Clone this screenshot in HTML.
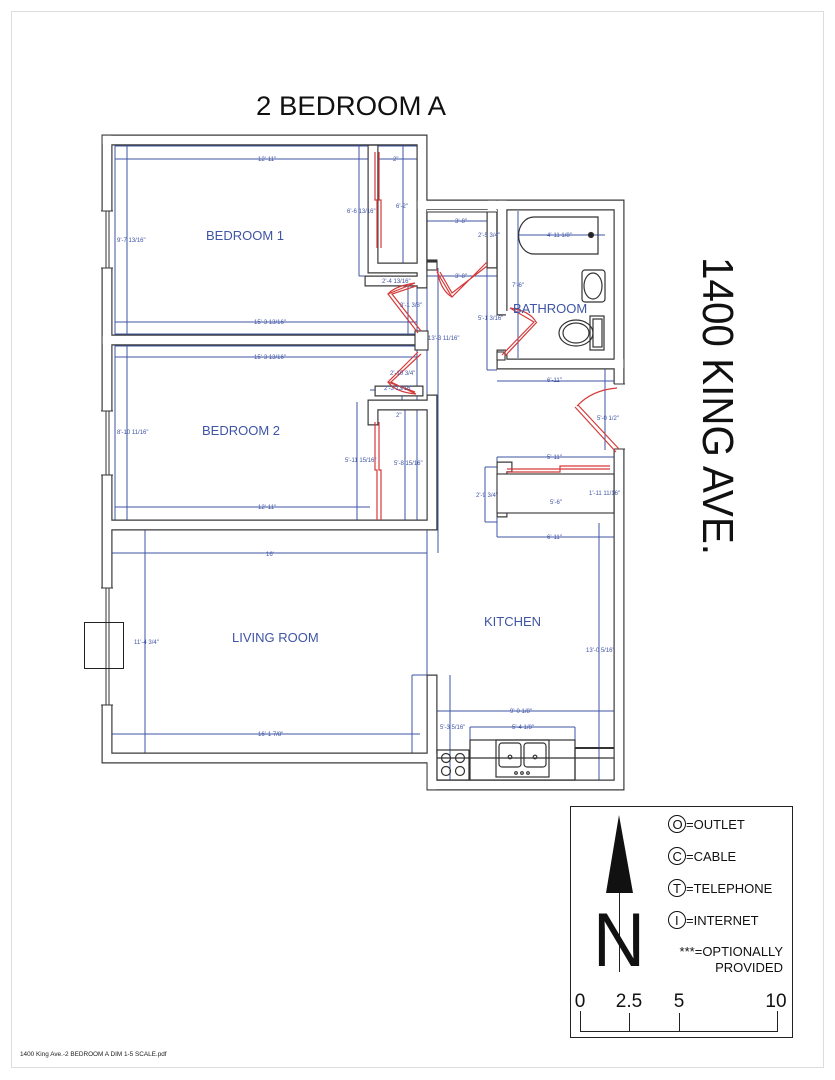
<!DOCTYPE html>
<html><head><meta charset="utf-8"><style>
html,body{margin:0;padding:0;background:#fff}
svg{display:block}
text{font-family:"Liberation Sans",Arial,sans-serif}
.w{fill:none;stroke:#3a3a3a;stroke-width:11;stroke-linejoin:miter;stroke-linecap:square}
.wi{fill:none;stroke:#fff;stroke-width:8.6;stroke-linejoin:miter;stroke-linecap:square}
.b{fill:none;stroke:#3f55a5;stroke-width:1}
.d{fill:#3f55a5;font-size:6px}
.r{fill:#3f55a5;font-size:13px}
.k{fill:none;stroke:#333;stroke-width:1.2}
.red{fill:none;stroke:#d63a3a;stroke-width:1.2}
</style></head><body>
<svg width="835" height="1080" viewBox="0 0 835 1080" xmlns="http://www.w3.org/2000/svg">
<rect x="11.5" y="11.5" width="812" height="1056" fill="none" stroke="#ddd" stroke-width="1"/>
<text x="256" y="115" font-size="27" textLength="190" lengthAdjust="spacingAndGlyphs" fill="#111">2 BEDROOM A</text>
<text transform="translate(703,257) rotate(90)" font-size="44" textLength="298" lengthAdjust="spacingAndGlyphs" fill="#111">1400 KING AVE.</text>

<!-- blue dimension lines -->
<g class="b">
<rect x="115" y="146" width="302" height="188"/>
<line x1="127" y1="146" x2="127" y2="334"/>
<line x1="115" y1="159" x2="417" y2="159"/>
<line x1="115" y1="322" x2="417" y2="322"/>
<line x1="359" y1="146" x2="359" y2="276"/>
<line x1="403" y1="146" x2="403" y2="267"/>
<line x1="359" y1="276" x2="417" y2="276"/>
<line x1="408" y1="283" x2="408" y2="334"/>
<rect x="115" y="346" width="302" height="174"/>
<line x1="127" y1="346" x2="127" y2="520"/>
<line x1="115" y1="357" x2="417" y2="357"/>
<line x1="115" y1="507" x2="370" y2="507"/>
<line x1="357" y1="402" x2="357" y2="520"/>
<line x1="405" y1="408" x2="405" y2="520"/>
<line x1="370" y1="390" x2="417" y2="390"/>
<line x1="402" y1="390" x2="402" y2="407"/>
<rect x="112" y="530" width="315" height="223"/>
<line x1="145" y1="530" x2="145" y2="753"/>
<line x1="112" y1="553" x2="427" y2="553"/>
<line x1="112" y1="734" x2="420" y2="734"/>
<line x1="427" y1="268" x2="427" y2="553"/>
<line x1="438" y1="268" x2="438" y2="553"/>
<line x1="427" y1="530" x2="437" y2="530"/>
<line x1="412" y1="675" x2="412" y2="753"/>
<line x1="412" y1="675" x2="427" y2="675"/>
<line x1="427" y1="221" x2="497" y2="221"/>
<line x1="427" y1="276" x2="497" y2="276"/>
<line x1="487" y1="212" x2="487" y2="370"/>
<line x1="487" y1="370" x2="497" y2="370"/>
<line x1="497" y1="381" x2="614" y2="381"/>
<line x1="518" y1="211" x2="518" y2="358"/>
<line x1="518" y1="235" x2="605" y2="235"/>
<line x1="605" y1="368" x2="605" y2="450"/>
<line x1="497" y1="457" x2="614" y2="457"/>
<line x1="497" y1="457" x2="497" y2="537"/>
<line x1="485" y1="467" x2="497" y2="467"/>
<line x1="485" y1="467" x2="485" y2="522"/>
<line x1="485" y1="522" x2="497" y2="522"/>
<line x1="497" y1="537" x2="614" y2="537"/>
<line x1="507" y1="502" x2="600" y2="502"/>
<line x1="600" y1="474" x2="600" y2="513"/>
<line x1="599" y1="523" x2="599" y2="780"/>
<line x1="437" y1="711" x2="614" y2="711"/>
<line x1="450" y1="675" x2="450" y2="780"/>
<line x1="470" y1="727" x2="575" y2="727"/>
<line x1="470" y1="727" x2="470" y2="740"/>
<line x1="575" y1="727" x2="575" y2="740"/>
<line x1="437" y1="758" x2="614" y2="758"/>
</g>

<!-- walls -->
<g>
<path class="w" d="M107,140 H422 V205 H619 V363 H619"/>
<path class="w" d="M619,363 V383"/>
<path class="w" d="M619,450 V785 H432 V758 H107 V140"/>
<path class="w" d="M422,205 V283"/>
<path class="w" d="M107,340 H418"/>
<path class="w" d="M112,525 H432 V400"/>
<path class="w" d="M373,150 V268 H418"/>
<path class="w" d="M370,281 H418"/>
<path class="w" d="M373,420 V405 H427"/>
<path class="w" d="M380,391 H418"/>
<path class="w" d="M432,265 H432"/>
<path class="w" d="M492,205 V263"/>
<path class="w" d="M502,205 V310"/>
<path class="w" d="M502,355 V364 H619"/>
<path class="w" d="M502,512 V467 H507"/>
<path class="w" d="M432,680 V785"/>
<path class="wi" d="M107,140 H422 V205 H619 V363 H619"/>
<path class="wi" d="M619,363 V383"/>
<path class="wi" d="M619,450 V785 H432 V758 H107 V140"/>
<path class="wi" d="M422,205 V283"/>
<path class="wi" d="M107,340 H418"/>
<path class="wi" d="M112,525 H432 V400"/>
<path class="wi" d="M373,150 V268 H418"/>
<path class="wi" d="M370,281 H418"/>
<path class="wi" d="M373,420 V405 H427"/>
<path class="wi" d="M380,391 H418"/>
<path class="wi" d="M492,205 V263"/>
<path class="wi" d="M502,205 V310"/>
<path class="wi" d="M502,355 V364 H619"/>
<path class="wi" d="M502,512 V467 H507"/>
<path class="wi" d="M432,680 V785"/>
</g>
<!-- wall blocks/stubs -->
<g fill="#fff" stroke="#333" stroke-width="1.1">
<rect x="415" y="331" width="13" height="19"/>
<rect x="427" y="262" width="10" height="8"/>
<rect x="427" y="210" width="70" height="2" stroke="none"/>
<rect x="497" y="474" width="117" height="39"/>
<rect x="497" y="352" width="8" height="8"/>
</g>
<line x1="427" y1="212" x2="427" y2="262" stroke="#333" stroke-width="1.1"/>
<line x1="427" y1="212" x2="497" y2="212" stroke="#333" stroke-width="1.1"/>
<line x1="427" y1="260" x2="437" y2="260" stroke="#333" stroke-width="1.1"/>
<!-- windows left wall -->
<g fill="#fff">
<rect x="101" y="211" width="12" height="57"/>
<rect x="101" y="411" width="12" height="64"/>
<rect x="101" y="588" width="12" height="117"/>
</g>
<g stroke="#333" stroke-width="1">
<line x1="106" y1="211" x2="106" y2="268"/><line x1="109" y1="211" x2="109" y2="268"/>
<line x1="106" y1="411" x2="106" y2="475"/><line x1="109" y1="411" x2="109" y2="475"/>
<line x1="106" y1="588" x2="106" y2="705"/><line x1="109" y1="588" x2="109" y2="705"/>
<line x1="101" y1="211" x2="113" y2="211"/><line x1="101" y1="268" x2="113" y2="268"/>
<line x1="101" y1="411" x2="113" y2="411"/><line x1="101" y1="475" x2="113" y2="475"/>
<line x1="101" y1="588" x2="113" y2="588"/><line x1="101" y1="705" x2="113" y2="705"/>
</g>
<rect x="84.5" y="622.5" width="39" height="46" fill="none" stroke="#222" stroke-width="1"/>
<!-- right door gap -->
<rect x="612" y="384" width="16" height="65" fill="#fff"/>
<line x1="614" y1="384" x2="625" y2="384" stroke="#333"/>
<line x1="614" y1="449" x2="625" y2="449" stroke="#333"/>
<rect x="506" y="311" width="8" height="43" fill="#fff"/>

<!-- red doors -->
<g class="red">
<path d="M375,152 V200 H377 V248 M379,152 V200 H381 V248"/>
<path d="M375,422 V470 H377 V520 M379,422 V470 H381 V520"/>
<path d="M507,469 H560 V466 H610 M507,472 H560 V469 H610"/>
<path d="M418,333 L388,294 L415,283 M421,331 L392,294 L416,286"/>
<path d="M418,352 L388,382 L415,392 M421,354 L391,382 L416,394"/>
<path d="M437,272 L452,297 L487,262 M440,272 L452,293 L487,266"/>
<path d="M437,269 Q440,290 452,297"/>
<path d="M502,355 L534,322 L510,308 M505,356 L537,322"/>
<path d="M510,308 Q530,311 536,322"/>
<path d="M619,449 L578,405 M616,452 L575,407"/>
<path d="M577,406 Q592,390 617,388"/>
<path d="M415,283 Q395,286 388,294"/>
<path d="M388,382 Q395,392 416,394"/>
</g>

<!-- bathroom fixtures -->
<g class="k">
<path d="M534,217 H598 V254 H534 A15,18 0 0 1 534,217 Z"/>
<circle cx="591" cy="235" r="2.5" fill="#222"/>
<rect x="582" y="270" width="23" height="32" rx="3"/>
<ellipse cx="593" cy="286" rx="9" ry="13"/>
<ellipse cx="576" cy="333" rx="17" ry="13"/>
<ellipse cx="576" cy="333" rx="13" ry="10"/>
<rect x="590" y="316" width="14" height="34"/>
<rect x="593" y="319" width="9" height="28"/>
</g>
<!-- kitchen -->
<g class="k">
<rect x="470" y="740" width="105" height="40"/>
<rect x="437" y="750" width="32" height="30"/>
<circle cx="446" cy="758" r="4.5"/><circle cx="460" cy="758" r="4.5"/>
<circle cx="446" cy="771" r="4.5"/><circle cx="460" cy="771" r="4.5"/>
<rect x="496" y="740" width="53" height="37"/>
<rect x="499" y="743" width="22" height="24" rx="3"/>
<rect x="524" y="743" width="22" height="24" rx="3"/>
<circle cx="510" cy="757" r="1.8"/><circle cx="535" cy="757" r="1.8"/>
<circle cx="516" cy="773" r="1.3"/><circle cx="522" cy="773" r="1.3"/><circle cx="528" cy="773" r="1.3"/>
<line x1="437" y1="758" x2="614" y2="758"/>
<line x1="575" y1="748" x2="614" y2="748" stroke-width="2"/>
<line x1="575" y1="748" x2="575" y2="780"/>
</g>

<!-- room labels -->
<text class="r" x="206" y="240">BEDROOM 1</text>
<text class="r" x="202" y="435">BEDROOM 2</text>
<text class="r" x="232" y="642">LIVING ROOM</text>
<text class="r" x="484" y="626">KITCHEN</text>
<text class="r" x="513" y="313">BATHROOM</text>

<!-- dims -->
<g class="d">
<text x="258" y="161">12'-11"</text>
<text x="393" y="161">2"</text>
<text x="347" y="213">6'-6 13/16"</text>
<text x="396" y="208">6'-2"</text>
<text x="117" y="242">9'-7 13/16"</text>
<text x="382" y="283">2'-4 13/16"</text>
<text x="400" y="307">3'-1 3/8"</text>
<text x="254" y="324">15'-3 13/16"</text>
<text x="254" y="359">15'-3 13/16"</text>
<text x="390" y="375">2'-10 3/4"</text>
<text x="384" y="390">2'-3 13/16"</text>
<text x="396" y="417">2"</text>
<text x="117" y="434">8'-10 11/16"</text>
<text x="345" y="462">5'-11 15/16"</text>
<text x="394" y="465">5'-8 15/16"</text>
<text x="258" y="509">12'-11"</text>
<text x="428" y="340">13'-3 11/16"</text>
<text x="455" y="223">3'-8"</text>
<text x="455" y="278">3'-8"</text>
<text x="478" y="237">2'-5 3/4"</text>
<text x="547" y="237">4'-11 1/8"</text>
<text x="512" y="287">7'-6"</text>
<text x="478" y="320">5'-1 3/16"</text>
<text x="547" y="382">6'-11"</text>
<text x="597" y="420">5'-0 1/2"</text>
<text x="547" y="459">5'-11"</text>
<text x="476" y="497">2'-9 3/4"</text>
<text x="589" y="495">1'-11 11/16"</text>
<text x="550" y="504">5'-6"</text>
<text x="547" y="539">6'-11"</text>
<text x="266" y="556">16'</text>
<text x="134" y="644">11'-4 3/4"</text>
<text x="586" y="652">13'-0 5/16"</text>
<text x="258" y="736">16'-1 7/8"</text>
<text x="510" y="713">9'-0 1/8"</text>
<text x="512" y="729">5'-4 1/8"</text>
<text x="440" y="729">5'-3 5/16"</text>
</g>

<!-- legend -->
<rect x="570.5" y="806.5" width="222" height="231" fill="none" stroke="#222" stroke-width="1"/>
<polygon points="619,815 606,893 633,893" fill="#111"/>
<line x1="619.5" y1="893" x2="619.5" y2="972" stroke="#222" stroke-width="1"/>
<text x="593" y="966" font-size="76" fill="#111" textLength="52" lengthAdjust="spacingAndGlyphs">N</text>
<g font-size="13" fill="#111" stroke="#111" stroke-width="1">
<circle cx="677" cy="824" r="8.5" fill="none"/>
<circle cx="677" cy="856" r="8.5" fill="none"/>
<circle cx="677" cy="888" r="8.5" fill="none"/>
<circle cx="677" cy="920" r="8.5" fill="none"/>
</g>
<g font-size="13" fill="#111">
<text x="672.5" y="829">O</text><text x="686" y="829">=OUTLET</text>
<text x="672.5" y="861">C</text><text x="686" y="861">=CABLE</text>
<text x="673" y="893">T</text><text x="686" y="893">=TELEPHONE</text>
<text x="675" y="925">I</text><text x="686" y="925">=INTERNET</text>
<text x="783" y="956" text-anchor="end">***=OPTIONALLY</text>
<text x="783" y="972" text-anchor="end">PROVIDED</text>
</g>
<g font-size="19" fill="#111">
<text x="580" y="1007" text-anchor="middle">0</text>
<text x="629" y="1007" text-anchor="middle">2.5</text>
<text x="679" y="1007" text-anchor="middle">5</text>
<text x="776" y="1007" text-anchor="middle">10</text>
</g>
<path d="M580.5,1011 V1031.5 H777.5 V1011 M629.5,1013 V1031 M679.5,1013 V1031" fill="none" stroke="#222" stroke-width="1"/>

<text x="20" y="1056" font-size="6.4" fill="#222">1400 King Ave.-2 BEDROOM A DIM 1-5 SCALE.pdf</text>
</svg>
</body></html>
